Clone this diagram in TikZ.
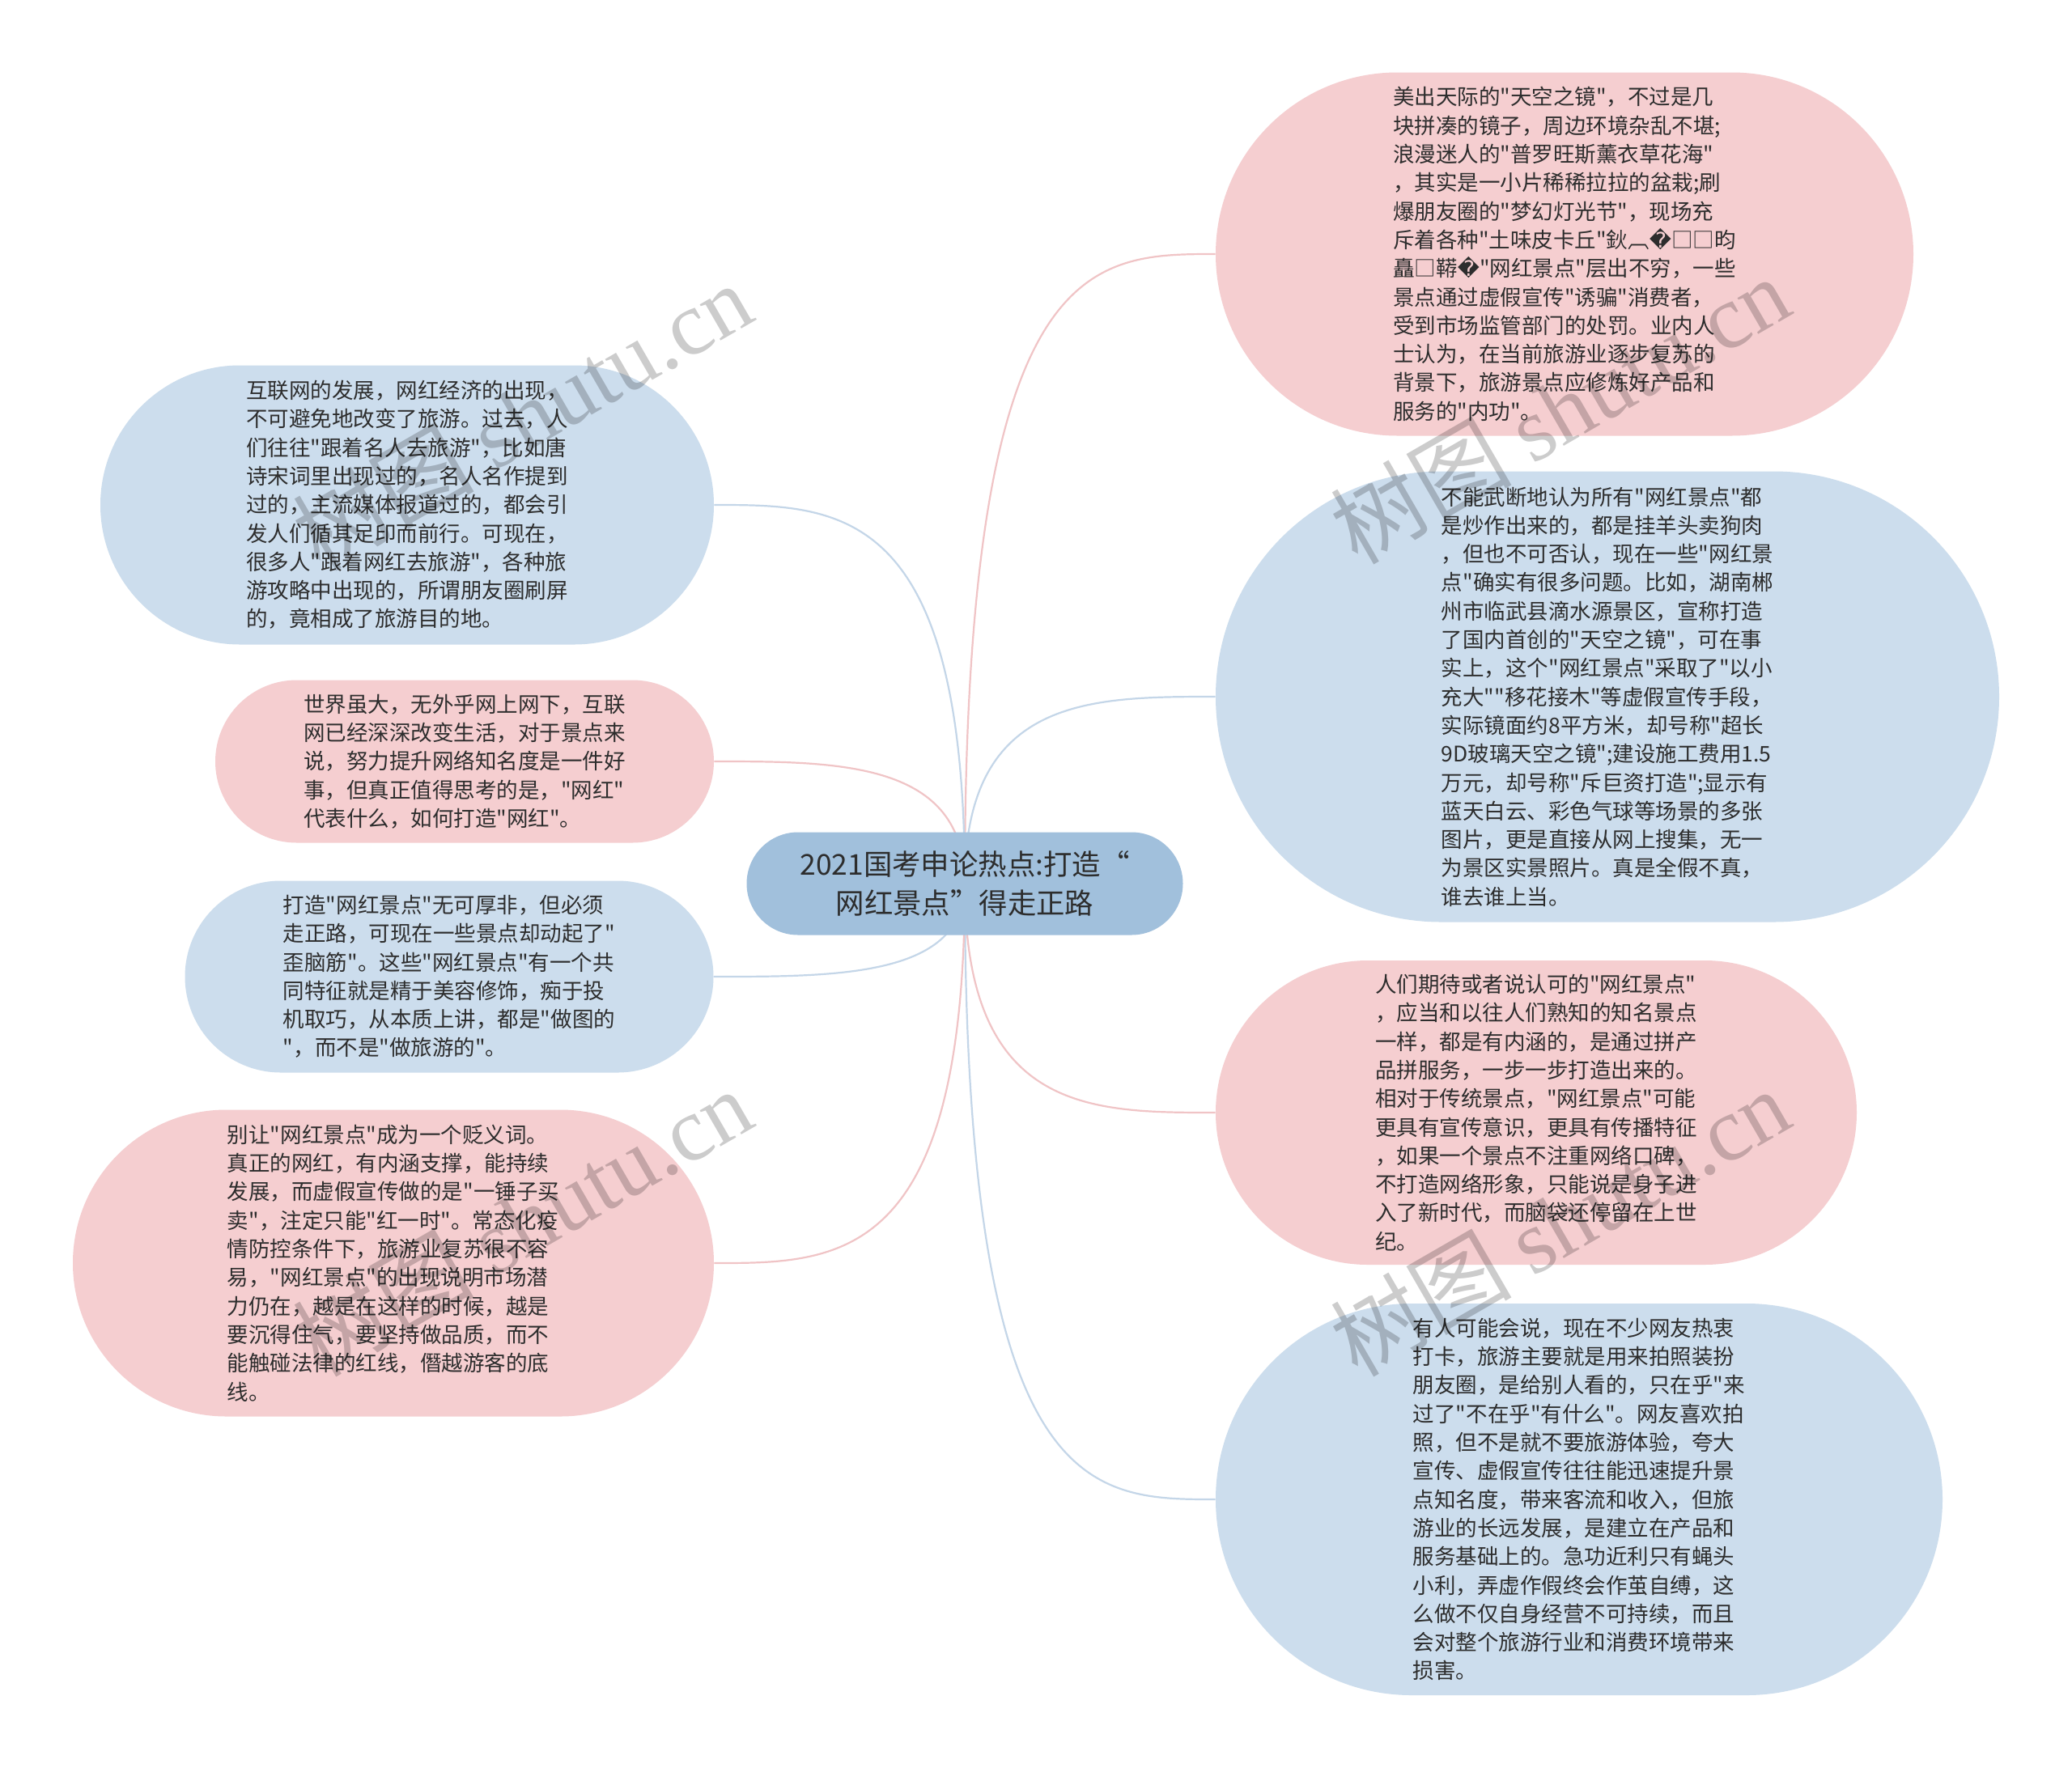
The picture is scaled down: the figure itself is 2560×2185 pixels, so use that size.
\documentclass[tikz,border=0pt]{standalone}
\usepackage{fontspec}
\setmainfont{Noto Sans CJK SC}[Ligatures=TeXOff]
\newfontfamily\wmfont{Liberation Serif}
\newfontfamily\symfont{DejaVu Sans}
\usetikzlibrary{backgrounds}

\definecolor{rootblue}{RGB}{161,192,220}
\definecolor{nodeblue}{RGB}{204,221,237}
\definecolor{nodepink}{RGB}{245,206,208}
\definecolor{linkblue}{RGB}{196,214,232}
\definecolor{linkpink}{RGB}{240,196,198}
\definecolor{textgray}{RGB}{45,45,45}

\begin{document}
\begin{tikzpicture}[x=0.5pt,y=-0.5pt,
    box/.style={align=left,inner sep=0pt,text=textgray,
      font=\fontsize{13.25pt}{17.65pt}\selectfont},
    pill/.style 2 args={minimum width=#1,minimum height=#2,rounded corners=#2/2},
    bluebox/.style={box,fill=nodeblue},
    pinkbox/.style={box,fill=nodepink},
    topic/.style={align=center,inner sep=0pt,text=textgray,fill=rootblue,
      font=\fontsize{17.7pt}{23.7pt}\selectfont},
    bluelink/.style={draw=linkblue,line width=1.1pt},
    pinklink/.style={draw=linkpink,line width=1.1pt},
    wmark/.style={rotate=30,text=black,opacity=0.2,
      font=\fontsize{56pt}{56pt}\selectfont}]
  \useasboundingbox (0,0) rectangle (2560,2185);

  %% Root
  \node[topic,pill={269.5pt}{63.5pt}] (root) at (1192,1092)
    {2021国考申论热点:打造“\\网红景点”得走正路};

  %% Right side
  \node[pinkbox,pill={431pt}{224.5pt}] (mirror) at (1933,314)
    {美出天际的"天空之镜"，不过是几\\
     块拼凑的镜子，周边环境杂乱不堪;\\
     浪漫迷人的"普罗旺斯薰衣草花海"\\
     ，其实是一小片稀稀拉拉的盆栽;刷\\
     爆朋友圈的"梦幻灯光节"，现场充\\
     斥着各种"土味皮卡丘"鈥︹{\symfont �}□□昀\\
     矗□鞯{\symfont �}"网红景点"层出不穷，一些\\
     景点通过虚假宣传"诱骗"消费者，\\
     受到市场监管部门的处罚。业内人\\
     士认为，在当前旅游业逐步复苏的\\
     背景下，旅游景点应修炼好产品和\\
     服务的"内功"。};
  \node[bluebox,pill={484pt}{278.5pt}] (hype) at (1986,861)
    {不能武断地认为所有"网红景点"都\\
     是炒作出来的，都是挂羊头卖狗肉\\
     ，但也不可否认，现在一些"网红景\\
     点"确实有很多问题。比如，湖南郴\\
     州市临武县滴水源景区，宣称打造\\
     了国内首创的"天空之镜"，可在事\\
     实上，这个"网红景点"采取了"以小\\
     充大""移花接木"等虚假宣传手段，\\
     实际镜面约8平方米，却号称"超长\\
     9D玻璃天空之镜";建设施工费用1.5\\
     万元，却号称"斥巨资打造";显示有\\
     蓝天白云、彩色气球等场景的多张\\
     图片，更是直接从网上搜集，无一\\
     为景区实景照片。真是全假不真，\\
     谁去谁上当。};
  \node[pinkbox,pill={396pt}{188pt}] (expect) at (1898,1375)
    {人们期待或者说认可的"网红景点"\\
     ，应当和以往人们熟知的知名景点\\
     一样，都是有内涵的，是通过拼产\\
     品拼服务，一步一步打造出来的。\\
     相对于传统景点，"网红景点"可能\\
     更具有宣传意识，更具有传播特征\\
     ，如果一个景点不注重网络口碑，\\
     不打造网络形象，只能说是身子进\\
     入了新时代，而脑袋还停留在上世\\
     纪。};
  \node[bluebox,pill={449pt}{242pt}] (photo) at (1951,1853)
    {有人可能会说，现在不少网友热衷\\
     打卡，旅游主要就是用来拍照装扮\\
     朋友圈，是给别人看的，只在乎"来\\
     过了"不在乎"有什么"。网友喜欢拍\\
     照，但不是就不要旅游体验，夸大\\
     宣传、虚假宣传往往能迅速提升景\\
     点知名度，带来客流和收入，但旅\\
     游业的长远发展，是建立在产品和\\
     服务基础上的。急功近利只有蝇头\\
     小利，弄虚作假终会作茧自缚，这\\
     么做不仅自身经营不可持续，而且\\
     会对整个旅游行业和消费环境带来\\
     损害。};

  %% Left side
  \node[bluebox,pill={379pt}{172.5pt}] (internet) at (503,624)
    {互联网的发展，网红经济的出现，\\
     不可避免地改变了旅游。过去，人\\
     们往往"跟着名人去旅游"，比如唐\\
     诗宋词里出现过的，名人名作提到\\
     过的，主流媒体报道过的，都会引\\
     发人们循其足印而前行。可现在，\\
     很多人"跟着网红去旅游"，各种旅\\
     游攻略中出现的，所谓朋友圈刷屏\\
     的，竟相成了旅游目的地。};
  \node[pinkbox,pill={308pt}{100.5pt}] (world) at (574,941)
    {世界虽大，无外乎网上网下，互联\\
     网已经深深改变生活，对于景点来\\
     说，努力提升网络知名度是一件好\\
     事，但真正值得思考的是，"网红"\\
     代表什么，如何打造"网红"。};
  \node[bluebox,pill={326.5pt}{118.5pt}] (rightway) at (555,1207)
    {打造"网红景点"无可厚非，但必须\\
     走正路，可现在一些景点却动起了"\\
     歪脑筋"。这些"网红景点"有一个共\\
     同特征就是精于美容修饰，痴于投\\
     机取巧，从本质上讲，都是"做图的\\
     "，而不是"做旅游的"。};
  \node[pinkbox,pill={396pt}{189.5pt}] (quality) at (486,1561)
    {别让"网红景点"成为一个贬义词。\\
     真正的网红，有内涵支撑，能持续\\
     发展，而虚假宣传做的是"一锤子买\\
     卖"，注定只能"红一时"。常态化疫\\
     情防控条件下，旅游业复苏很不容\\
     易，"网红景点"的出现说明市场潜\\
     力仍在，越是在这样的时候，越是\\
     要沉得住气，要坚持做品质，而不\\
     能触碰法律的红线，僭越游客的底\\
     线。};

  %% Links
  \begin{scope}[on background layer]
    \fill[white] (0,0) rectangle (2560,2185);
    \draw[pinklink] (root.center) .. controls +(0,-778) and +(-155,0) .. (mirror.west);
    \draw[bluelink] (root.center) .. controls +(0,-231) and +(-155,0) .. (hype.west);
    \draw[pinklink] (root.center) .. controls +(0,283) and +(-155,0) .. (expect.west);
    \draw[bluelink] (root.center) .. controls +(0,761) and +(-155,0) .. (photo.west);
    \draw[bluelink] (root.center) .. controls +(0,-468) and +(155,0) .. (internet.east);
    \draw[pinklink] (root.center) .. controls +(0,-151) and +(155,0) .. (world.east);
    \draw[bluelink] (root.center) .. controls +(0,115) and +(155,0) .. (rightway.east);
    \draw[pinklink] (root.center) .. controls +(0,469) and +(155,0) .. (quality.east);
  \end{scope}

  %% Watermarks
  \node[wmark] (wm1) at (645,514) {树图 {\wmfont shutu.cn}};
  \node[wmark] (wm2) at (1927,506) {树图 {\wmfont shutu.cn}};
  \node[wmark] (wm3) at (645,1510) {树图 {\wmfont shutu.cn}};
  \node[wmark] (wm4) at (1927,1510) {树图 {\wmfont shutu.cn}};
\end{tikzpicture}
\end{document}
